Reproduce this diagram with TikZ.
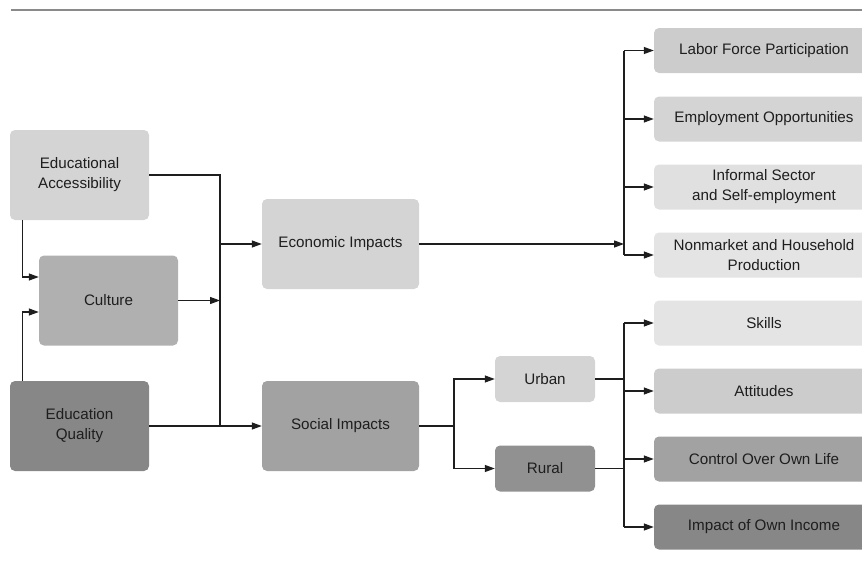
\documentclass[tikz,border=0pt]{standalone}
\usepackage{fontspec}
\setmainfont{Liberation Sans}
\usepackage{xcolor}
\usepackage{tikz}
\usetikzlibrary{arrows.meta, positioning, calc}
\definecolor{rule}{HTML}{8A8A8A}
\definecolor{gA}{HTML}{E4E4E4}
\definecolor{gB}{HTML}{E0E0E0}
\definecolor{gC}{HTML}{D4D4D4}
\definecolor{gD}{HTML}{CCCCCC}
\definecolor{gE}{HTML}{B0B0B0}
\definecolor{gF}{HTML}{A2A2A2}
\definecolor{gG}{HTML}{919191}
\definecolor{gH}{HTML}{878787}
\definecolor{ink}{HTML}{1E1E1E}

\begin{document}
\begin{tikzpicture}[
  x=1pt, y=-1pt,
  box/.style={rounded corners=5pt, align=center, inner sep=0pt, text=ink,
              font=\fontsize{15.2}{20}\selectfont},
  bigbox/.style={box, minimum width=139pt, minimum height=90pt},
  midbox/.style={box, minimum width=157pt, minimum height=90pt},
  smlbox/.style={box, minimum width=100pt, minimum height=46pt},
  outbox/.style={box, minimum width=220pt, minimum height=45pt},
  wire/.style={line width=1.25pt, draw=ink},
  arr/.style={wire, -{Triangle[length=10pt,width=7pt]}}
]
\useasboundingbox (0,0) rectangle (862,562);
% top rule
\draw[rule, line width=2pt] (11,9.5) -- (862,9.5);

% Causes on the left
\node[bigbox, fill=gC] (acc)  at (79.5,175)  {Educational\\Accessibility};
\node[bigbox, fill=gE] (cult) at (108.5,300.5) {Culture};
\node[bigbox, fill=gH] (qual) at (79.5,426)  {Education\\Quality};

% Impacts
\node[midbox, fill=gC] (econ) at (340.5,244) {Economic Impacts};
\node[midbox, fill=gF] (soc)  at (340.5,426) {Social Impacts};

% Urban / rural split
\node[smlbox, fill=gC] (urban) at (545,379)   {Urban};
\node[smlbox, fill=gG] (rural) at (545,468.5) {Rural};

% Outcomes on the right (run off the page edge)
\node[outbox, fill=gD] (lab) at (764,50.5) {Labor Force Participation};
\node[outbox, fill=gC] (emp) at (764,119)  {Employment Opportunities};
\node[outbox, fill=gB] (inf) at (764,187)  {Informal Sector\\and Self-employment};
\node[outbox, fill=gA] (non) at (764,255)  {Nonmarket and Household\\Production};
\node[outbox, fill=gA] (skl) at (764,323)  {Skills};
\node[outbox, fill=gD] (att) at (764,391)  {Attitudes};
\node[outbox, fill=gF] (ctl) at (764,459)  {Control Over Own Life};
\node[outbox, fill=gH] (inc) at (764,527)  {Impact of Own Income};

% Bus lines
\coordinate (busl) at (220,426);
\coordinate (split) at (454,426);
\coordinate (busr) at (624,244);

% Left side into the impacts
\draw[wire] (acc.east) -| (busl);
\draw[arr] (qual.east) -- (soc.west);
\draw[arr] (busl |- econ) -- (econ.west);
\draw[arr] (cult.east) -- (busl |- cult);
\draw[arr] (acc.south -| {22.5,0}) |- ([yshift=23.5pt]cult.west);
\draw[arr] (qual.north -| {22.5,0}) |- ([yshift=-11.5pt]cult.west);

% Economic impacts to outcomes
\draw[arr] (econ.east) -- (busr);
\draw[wire] (busr |- lab) -- (busr |- non);
\foreach \n in {lab,emp,inf,non}
  \draw[arr] (busr |- \n) -- (\n.west);

% Social impacts to urban / rural
\draw[wire] (soc.east) -- (split);
\draw[arr] (split) |- (urban.west);
\draw[arr] (split) |- (rural.west);
\draw[wire] (urban.east) -- (busr |- urban);
\draw[wire] (rural.east) -- (busr |- rural);
\draw[wire] (busr |- skl) -- (busr |- inc);
\foreach \n in {skl,att,ctl,inc}
  \draw[arr] (busr |- \n) -- (\n.west);
\end{tikzpicture}
\end{document}
